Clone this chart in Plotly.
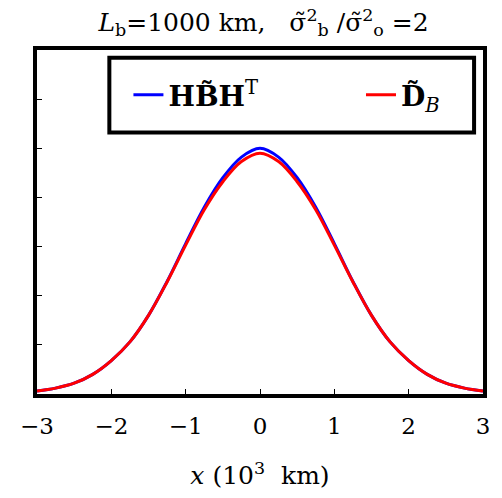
import plotly.graph_objects as go

x_vals = [-3.0, -2.75, -2.5, -2.25, -2.0, -1.75, -1.5, -1.25, -1.0, -0.75, -0.5, -0.25,
          0.0, 0.25, 0.5, 0.75, 1.0, 1.25, 1.5, 1.75, 2.0, 2.25, 2.5, 2.75, 3.0]
hbh_vals = [0.006, 0.012, 0.022, 0.040, 0.068, 0.106, 0.160, 0.229, 0.306, 0.380, 0.440, 0.482,
            0.500, 0.482, 0.440, 0.380, 0.306, 0.229, 0.160, 0.106, 0.068, 0.040, 0.022, 0.012, 0.006]
db_vals = [0.006, 0.012, 0.022, 0.040, 0.068, 0.106, 0.160, 0.228, 0.303, 0.375, 0.432, 0.473,
           0.490, 0.473, 0.432, 0.375, 0.303, 0.228, 0.160, 0.106, 0.068, 0.040, 0.022, 0.012, 0.006]
x_ticks = [-3, -2, -1, 0, 1, 2, 3]
y_ticks = [0.1, 0.2, 0.3, 0.4, 0.5, 0.6]

FONT = "DejaVu Serif"
NB = "\u00a0"

fig = go.Figure()
fig.add_trace(go.Scatter(x=x_vals, y=hbh_vals, mode="lines", line=dict(color="#0000ff", width=3, shape="spline"),
                         name="<b>HB\u0303H</b><sup>T</sup>" + NB * 11))
fig.add_trace(go.Scatter(x=x_vals, y=db_vals, mode="lines", line=dict(color="#ff0000", width=3, shape="spline"),
                         name="<b>D\u0303</b><sub><i>B</i></sub>"))

fig.update_layout(
    width=502, height=498,
    margin=dict(l=37, r=15, t=50, b=98),
    paper_bgcolor="white", plot_bgcolor="white",
    font=dict(family=FONT, size=23, color="black"),
    title=dict(text="<i>L</i><sub>b</sub>=1000" + NB + "km," + NB * 3 +
                    "σ\u0303<sup>2</sup><sub>b</sub>" + NB + "/σ\u0303<sup>2</sup><sub>o</sub>" + NB + "=2",
               x=0.525, xanchor="center", y=0.955, yanchor="middle", font=dict(size=25)),
    legend=dict(orientation="h", x=0.205, y=0.869, xanchor="left", yanchor="middle",
                borderwidth=0, bgcolor="rgba(0,0,0,0)", font=dict(size=28)),
    showlegend=True,
    shapes=[dict(type="rect", xref="paper", yref="paper",
                 x0=73 / 450, x1=441 / 450, y0=1 - 84 / 350, y1=1 - 8 / 350,
                 line=dict(color="black", width=4), fillcolor="white", layer="above")],
)
fig.update_xaxes(range=[-3, 3], tickvals=x_ticks, ticks="inside", ticklen=5, tickwidth=1, tickcolor="black",
                 showline=True, linewidth=4, linecolor="black", mirror=True, showgrid=False, zeroline=False,
                 ticklabelstandoff=8,
                 title=dict(text="<i>x</i>" + NB + "(10<sup>3</sup>" + NB * 2 + "km)", font=dict(size=25), standoff=30),
                 tickfont=dict(size=23))
fig.update_yaxes(range=[0, 0.7], tickvals=y_ticks, ticks="inside", ticklen=5, tickwidth=1, tickcolor="black",
                 showticklabels=False, showline=True, linewidth=4, linecolor="black", mirror=True,
                 showgrid=False, zeroline=False)

fig.write_html("out.html")
